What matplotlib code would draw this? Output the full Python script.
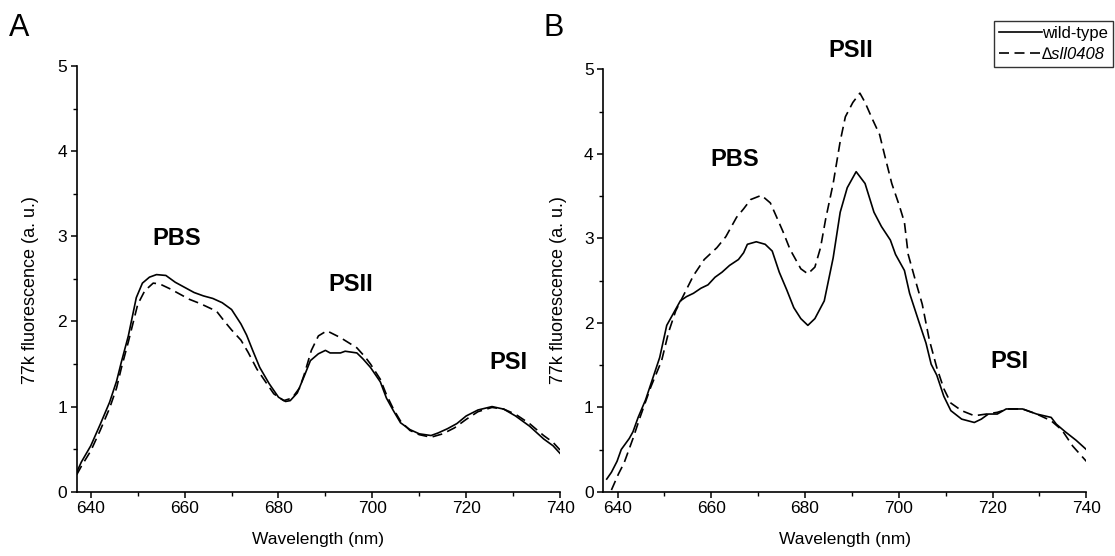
import matplotlib
matplotlib.use('Agg')
import matplotlib.pyplot as plt
from matplotlib.ticker import MultipleLocator

plt.rcParams['font.family'] = ['Liberation Sans', 'DejaVu Sans']

# panel A, wild-type (solid)
a_wt_x = [637.0, 638.0, 640.0, 642.0, 644.0, 645.5, 646.5, 648.0, 649.7, 651.0,
          652.5, 654.0, 656.0, 658.0, 660.0, 662.0, 664.0, 666.0, 668.0, 670.0,
          672.0, 673.2, 674.5, 676.0, 678.0, 680.0, 681.5, 682.5, 684.0, 685.5,
          686.8, 688.5, 690.0, 691.0, 693.2, 694.2, 696.7, 698.0, 699.6, 701.7,
          703.0, 704.5, 706.0, 708.0, 710.0, 712.5, 714.0, 716.0, 718.0, 720.0,
          722.5, 725.5, 728.0, 730.5, 733.5, 736.5, 738.5, 740.0]
a_wt_y = [0.23, 0.35, 0.54, 0.79, 1.05, 1.30, 1.52, 1.83, 2.28, 2.45,
          2.52, 2.55, 2.54, 2.46, 2.40, 2.34, 2.30, 2.27, 2.22, 2.14,
          1.97, 1.84, 1.66, 1.46, 1.27, 1.11, 1.06, 1.07, 1.16, 1.36,
          1.54, 1.62, 1.66, 1.63, 1.63, 1.65, 1.63, 1.56, 1.46, 1.29,
          1.10, 0.95, 0.81, 0.73, 0.68, 0.66, 0.69, 0.74, 0.80, 0.89,
          0.96, 1.00, 0.97, 0.89, 0.77, 0.62, 0.54, 0.45]

# panel A, mutant (dashed)
a_mut_x = [637.0, 638.0, 640.0, 642.0, 644.0, 645.5, 646.5, 648.0, 650.0, 651.5,
           653.3, 654.7, 657.0, 659.0, 661.0, 663.3, 666.8, 668.5, 670.0, 672.0,
           673.5, 675.4, 677.5, 679.0, 681.1, 682.9, 684.5, 685.5, 687.0, 688.5,
           690.3, 693.2, 696.7, 698.5, 699.6, 701.7, 703.0, 704.5, 706.0, 708.0,
           710.0, 712.5, 715.0, 717.5, 720.0, 722.5, 725.5, 728.0, 730.5, 733.5,
           736.5, 738.5, 740.0]
a_mut_y = [0.20, 0.30, 0.48, 0.72, 0.98, 1.22, 1.45, 1.76, 2.20, 2.36,
           2.45, 2.44, 2.38, 2.32, 2.26, 2.21, 2.12, 2.00, 1.90, 1.78,
           1.64, 1.44, 1.27, 1.15, 1.07, 1.10, 1.22, 1.38, 1.66, 1.83,
           1.89, 1.81, 1.69, 1.58, 1.50, 1.32, 1.14, 0.97, 0.83, 0.72,
           0.67, 0.64, 0.68, 0.75, 0.85, 0.94, 0.99, 0.97, 0.91, 0.80,
           0.66, 0.58, 0.49]

# panel B, wild-type (solid)
b_wt_x = [637.7, 638.7, 639.9, 640.8, 642.5, 643.3, 644.4, 646.0, 647.5, 649.0,
          650.5, 652.0, 653.4, 654.7, 656.2, 657.8, 659.3, 660.8, 662.3, 663.9,
          665.8, 666.9, 667.7, 669.6, 671.5, 673.0, 674.5, 676.1, 677.6, 679.1,
          680.6, 682.1, 684.1, 686.0, 687.5, 689.0, 690.9, 692.8, 694.7, 696.3,
          698.2, 699.3, 701.2, 702.3, 704.3, 705.8, 706.9, 708.1, 709.6, 711.1,
          713.4, 716.1, 717.6, 719.1, 721.0, 722.9, 726.4, 729.4, 732.5, 733.6,
          735.5, 737.8, 740.0]
b_wt_y = [0.15, 0.23, 0.36, 0.50, 0.63, 0.71, 0.88, 1.09, 1.34, 1.59,
          1.97, 2.12, 2.26, 2.31, 2.35, 2.41, 2.45, 2.54, 2.60, 2.68,
          2.75, 2.83, 2.93, 2.96, 2.93, 2.85, 2.60, 2.39, 2.18, 2.05,
          1.97, 2.05, 2.26, 2.77, 3.31, 3.60, 3.79, 3.65, 3.31, 3.14,
          2.98, 2.81, 2.62, 2.35, 2.01, 1.76, 1.51, 1.38, 1.13, 0.96,
          0.86, 0.82, 0.86, 0.92, 0.92, 0.98, 0.98, 0.92, 0.88, 0.80,
          0.71, 0.61, 0.50]

# panel B, mutant (dashed)
b_mut_x = [638.7, 640.2, 641.4, 643.3, 644.8, 647.1, 649.4, 650.9, 652.4, 654.3,
           656.2, 658.5, 661.2, 663.1, 665.4, 666.9, 668.4, 670.7, 672.6, 673.8,
           675.3, 676.8, 679.1, 680.6, 682.1, 683.3, 684.4, 686.0, 687.5, 688.6,
           690.2, 691.7, 692.8, 694.3, 695.9, 697.0, 698.5, 700.1, 701.2, 702.0,
           703.5, 705.0, 706.5, 708.1, 709.6, 711.1, 713.4, 716.1, 718.7, 721.0,
           723.3, 726.4, 729.4, 732.5, 734.8, 737.1, 740.0]
b_mut_y = [0.02, 0.21, 0.34, 0.63, 0.88, 1.24, 1.55, 1.89, 2.14, 2.35,
           2.56, 2.75, 2.89, 3.02, 3.25, 3.35, 3.46, 3.51, 3.42, 3.27,
           3.08, 2.87, 2.64, 2.58, 2.66, 2.89, 3.23, 3.65, 4.15, 4.44,
           4.61, 4.72, 4.61, 4.42, 4.23, 3.98, 3.65, 3.39, 3.19, 2.81,
           2.51, 2.22, 1.80, 1.47, 1.22, 1.05, 0.96, 0.90, 0.92, 0.94,
           0.98, 0.98, 0.92, 0.84, 0.73, 0.54, 0.36]

a_peaks = [('PBS', 658.4, 2.97), ('PSII', 695.4, 2.43), ('PSI', 729.0, 1.52)]
b_peaks = [('PBS', 664.9, 3.93), ('PSII', 689.7, 5.23), ('PSI', 723.7, 1.54)]

fig = plt.figure(figsize=(11.15, 5.56), dpi=100)
axA = fig.add_axes([0.0688, 0.1156, 0.4335, 0.7657])
axB = fig.add_axes([0.5412, 0.1156, 0.4331, 0.7594])

dash = (6, 3.3)
lw = 1.2
for ax, wx, wy, mx, my, peaks in [(axA, a_wt_x, a_wt_y, a_mut_x, a_mut_y, a_peaks),
                                   (axB, b_wt_x, b_wt_y, b_mut_x, b_mut_y, b_peaks)]:
    ax.plot(wx, wy, color='black', linestyle='-', linewidth=lw, label='wild-type')
    ax.plot(mx, my, color='black', linestyle='--', dashes=dash, linewidth=lw,
            label='\u2206sll0408')
    for name, px, py in peaks:
        ax.text(px, py, name, ha='center', va='center', fontsize=17,
                fontweight='bold', clip_on=False)
    ax.set_xlim(637, 740)
    ax.set_ylim(0, 5)
    ax.xaxis.set_major_locator(MultipleLocator(20))
    ax.xaxis.set_minor_locator(MultipleLocator(10))
    ax.yaxis.set_major_locator(MultipleLocator(1))
    ax.yaxis.set_minor_locator(MultipleLocator(0.5))
    ax.spines['top'].set_visible(False)
    ax.spines['right'].set_visible(False)
    for s in ('left', 'bottom'):
        ax.spines[s].set_linewidth(1.2)
    ax.tick_params(which='major', length=4, width=1.1, labelsize=12.5, pad=3)
    ax.tick_params(which='minor', length=3, width=1.0)
    ax.set_xlabel('Wavelength (nm)', fontsize=12.5, va='center')
    ax.set_ylabel('77k fluorescence (a. u.)', fontsize=13, va='center')
    ax.xaxis.set_label_coords(0.5, -0.113)

axA.yaxis.set_label_coords(-0.0966, 0.474)
axB.yaxis.set_label_coords(-0.094, 0.478)

fig.text(0.008, 0.935, 'A', fontsize=22, va='baseline', ha='left')
fig.text(0.487, 0.935, 'B', fontsize=22, va='baseline', ha='left')

leg = axB.legend(loc='upper right', bbox_to_anchor=(0.998, 0.962),
                 bbox_transform=fig.transFigure, fontsize=12, frameon=True,
                 fancybox=False, edgecolor='#333333', framealpha=1,
                 handlelength=2.6, handletextpad=0.0, borderpad=0.3,
                 labelspacing=0.35, borderaxespad=0.0)
leg.get_frame().set_linewidth(1.0)
leg.get_texts()[1].set_fontstyle('italic')

fig.savefig('out.png', dpi=100)
